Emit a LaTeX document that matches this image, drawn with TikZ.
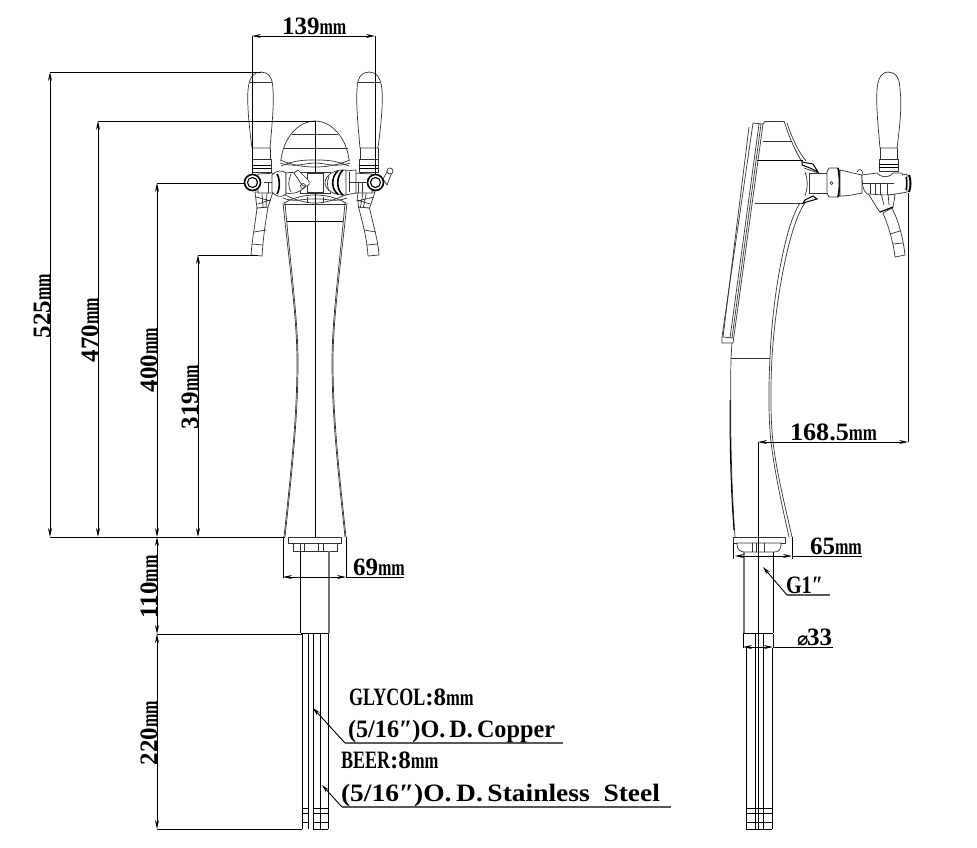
\documentclass[tikz,border=0pt]{standalone}
\usepackage{fontspec}
\usepackage{graphicx}
\setmainfont{Liberation Serif}
\newfontfamily\symfont{DejaVu Sans}
\usetikzlibrary{arrows.meta}
\tikzset{
  obj/.style={line width=0.7pt,black!80},
  heavy/.style={line width=1.6pt,black},
  dimline/.style={line width=0.9pt,black},
  dimarrow/.style={line width=0.9pt,black,{Stealth[length=9pt,width=4pt]}-{Stealth[length=9pt,width=4pt]}},
  leadarrow/.style={line width=0.9pt,black,{Stealth[length=8pt,width=4pt]}-},
  shelf/.style={line width=1.1pt,black!65},
  lbl/.style={inner sep=0pt,outer sep=0pt,font=\bfseries\fontsize{25}{25}\selectfont,text=black},
}
\newcommand{\dimtext}[1]{#1\scalebox{.7}[1]{\fontsize{23}{23}\selectfont mm}}
\newcommand{\fitw}[2]{\resizebox{#1pt}{\height}{#2}}
\newcommand{\dblq}{\textit{″}}
\newcommand{\narrow}[1]{\scalebox{.72}[1]{#1}}
% one faucet, left-hand version; mirrored for the right-hand one. #1 = shift of spout top
\newcommand{\faucet}[1]{%
  % handle
  \draw[obj,fill=white] (252,148) .. controls (249,125) and (247,105) .. (248,90)
     .. controls (249,77) and (254,72) .. (261,72)
     .. controls (268,72) and (273,77) .. (273,90)
     .. controls (274,105) and (272,125) .. (270,148) -- cycle;
  \draw[obj] (250,82) -- (272,82);
  \draw[obj] (252,148) -- (252,159) (270,148) -- (270,159);
  % collar
  \draw[obj,fill=white] (252,159) rectangle (271,172);
  \draw[line width=1pt] (252,165) -- (271,165) (252,168) -- (271,168);
  % spout
  \draw[obj,fill=white] ({257+#1},208) .. controls ({255+#1/2},225) and (252,240) .. (251,255)
     -- (262,256) .. controls (263,240) and ({265+#1/2},225) .. ({268+#1},207) -- cycle;
  \draw[obj] (254,232) -- (266,230) (252,244) -- (263,245);
  % spout base
  \draw[obj,fill=white] (255,192) -- ({257+#1},208) -- ({268+#1},207) -- (273,192) -- cycle;
  \draw[obj] (256,197) -- ({271+#1/2},201) ({262+#1/2},193) -- ({263+#1},207) ({267},193) -- ({266+#1},207) ({258+#1/2},204) -- ({270+#1},200);
  % body
  \draw[obj,fill=white] (258,174) -- (277,173) -- (277,193) -- (258,193) -- cycle;
  \draw[obj] (264,182) -- (277,182) (268,182) -- (268,193) (272,182) -- (272,193);
}
\begin{document}
\begin{tikzpicture}[x=1pt,y=-1pt]
\useasboundingbox (0,0) rectangle (977,847);
\fill[white] (0,0) rectangle (977,847);

% ---------- front view: body ----------
\foreach \m in {0,1}{
 \begin{scope}[shift={(\m*630,0)},xscale={1-2*\m}]
  \draw[obj] (283,203) .. controls (290,270) and (297,320) .. (297,362)
     .. controls (297,420) and (290,480) .. (284,537);
  \draw[obj] (285,203) .. controls (291,270) and (298,320) .. (298,362)
     .. controls (298,420) and (291,480) .. (285,537);
  \draw[obj] (281,160) .. controls (283,140) and (297,121) .. (315,121);
  \draw[obj] (280,160) .. controls (295,166) and (305,167) .. (315,167);
  \draw[obj] (281,166) .. controls (295,160) and (305,160) .. (315,160);
  \draw[obj] (280,163) .. controls (295,168) and (305,163) .. (315,163);
  \draw[obj] (283,194) .. controls (295,200) and (305,203) .. (315,203);
  \draw[obj] (284,203) .. controls (295,197) and (305,195) .. (315,195);
  \draw[obj] (283,198) .. controls (295,203) and (305,198) .. (315,199);
  \draw[obj] (284,204) -- (315,204);
 \end{scope}
}
\draw[obj] (292,134) -- (338,134) (283,148) -- (348,148);
\draw[line width=.9pt] (287,221) -- (343,221);
% center block
\draw[obj] (300,172) rectangle (330,193);
\draw[obj] (307,173) rectangle (323,192);
\draw[obj] (307,197) -- (307,203) (323,197) -- (323,203);

% faucets
\faucet{0}
\begin{scope}[shift={(630,0)},xscale=-1]
  \faucet{3.5}
\end{scope}
% left inner connection
\draw[obj,fill=white] (272,175) .. controls (276,170) and (283,170) .. (286,173)
   -- (286,194) .. controls (282,198) and (276,197) .. (272,192) -- cycle;
\draw[heavy] (277,174) .. controls (280,178) and (280,190) .. (277,194);
\draw[obj,fill=white] (286,173) .. controls (296,171) and (303,175) .. (307,183)
   .. controls (304,190) and (296,195) .. (286,193) -- cycle;
\draw[obj] (291,174) .. controls (288,181) and (288,187) .. (291,192);
\draw[obj,fill=white] (294,173) -- (298,170) -- (309,181) .. controls (311,186) and (305,188) .. (302,185) -- cycle;
\draw[obj] (303,186) circle (2.5);
% right inner connection
\draw[obj,fill=white] (345,171) -- (356,170) -- (356,193) -- (345,195) -- cycle;
\draw[obj,fill=white] (346,170) .. controls (335,169) and (325,175) .. (325,183)
   .. controls (325,190) and (335,196) .. (346,195) -- cycle;
\draw[heavy] (338,171) .. controls (331,176) and (331,190) .. (338,194);
\draw[heavy] (343,170) .. controls (336,176) and (336,190) .. (343,195);
\draw[obj] (329,176) .. controls (327,181) and (327,187) .. (329,191);
\draw[obj] (349,172) -- (349,192) (349,182) -- (364,182);
% right vent tube
\draw[obj,fill=white] (383,179) -- (388,170) -- (392,172) -- (387,185) -- cycle;
\draw[obj,fill=white] (390,171) circle (3);
% rings
\foreach \rx in {252.5,375.5}{
  \draw[line width=1.6pt,fill=white] (\rx,182.5) circle (8);
  \draw[line width=1.1pt] (\rx,182.5) circle (5);
}

% axis through the front view
\draw[dimline] (315,121) -- (315,172);
\draw[dimline] (315,193) -- (315,537);

% foot and pipe, front
\draw[obj,fill=white] (288,537) rectangle (341,543);
\draw[obj,fill=white] (293,543) rectangle (337,551);
\draw[obj] (300,543) -- (300,551) (304,543) -- (304,551) (318,543) -- (318,551) (323,543) -- (323,551);
\draw[line width=1pt] (300.5,551) -- (300.5,633);
\draw[line width=1.1pt,black!55] (329,551) -- (329,633);
\draw[line width=1pt] (300.5,633.5) -- (329,633.5);
\draw[line width=.9pt] (302,634) -- (302,829) (308,634) -- (308,829)
   (313,634) -- (313,829) (320,634) -- (320,829) (328,634) -- (328,829);
\draw[line width=.8pt] (302,808) -- (308,808) (302,813) -- (308,813) (302,822) -- (308,822)
   (313,808) -- (328,808) (313,813) -- (328,813) (313,822) -- (328,822)
   (313,829) -- (328,829);

% ---------- side view ----------
% plate
\draw[obj] (753,123) -- (763,124) -- (733,343) -- (722,343) -- (722,337) -- cycle;
\draw[obj] (749,127) -- (723,337) -- (733,338);
\draw[obj] (759,124) -- (730,338);
\draw[obj] (761,124) -- (732,338);
% body top
\draw[obj] (765,121) -- (784,121);
\draw[obj] (763,124) -- (765,121);
\draw[obj] (784,121) .. controls (788,133) and (792,145) .. (802,162);
\draw[obj] (787,123) .. controls (791,135) and (797,150) .. (806,161);
\draw[obj] (763,141) -- (792,141);
\draw[dimline] (757,160) -- (803,160);
\draw[obj] (755,203) -- (805,203);
% brackets
\draw[line width=1pt] (802,162) -- (813,164) -- (818,172) -- (810,168) -- (802,165) -- cycle;
\draw[obj] (804,168) -- (818,173);
\draw[line width=1pt] (803,203) -- (817,199) -- (813,196) -- (805,200) -- cycle;
\draw[obj] (805,172) .. controls (808,180) and (808,186) .. (805,196);
% body curve
\draw[obj] (800,203) .. controls (785,225) and (772,300) .. (770,358)
   .. controls (768,395) and (769,425) .. (771,442)
   .. controls (775,475) and (783,510) .. (789,537);
\draw[obj] (805,203) .. controls (790,223) and (776,295) .. (772,357)
   .. controls (770,395) and (771,425) .. (773,442)
   .. controls (777,475) and (786,510) .. (792,537);
\draw[obj] (732,343) -- (731,358) .. controls (730,420) and (731,480) .. (735,537);
\draw[line width=1pt] (730,400) .. controls (730,450) and (731,490) .. (734,530);
\draw[obj] (731,358) -- (770,358);

% foot and pipe, side
\draw[obj,fill=white] (733,537) rectangle (785,543);
\draw[obj,fill=white] (737,543) .. controls (737,550) and (740,552) .. (745,552) -- (774,552)
   .. controls (779,552) and (781,550) .. (781,543) -- cycle;
\draw[obj] (735,543) -- (737,543) (752,543) -- (752,552) (756,543) -- (756,552) (764,543) -- (764,552);
\draw[line width=1.1pt,black!55] (744,552) -- (744,633);
\draw[line width=1pt] (773,552) -- (773,633);
\draw[line width=1pt] (743,633.5) -- (773,633.5);
\draw[line width=.9pt] (743,634) -- (743,648) (773,634) -- (773,648);
\draw[line width=.9pt] (746,648) -- (746,829) (755,634) -- (755,829)
   (763,634) -- (763,829) (772,648) -- (772,829);
\draw[line width=.8pt] (746,808) -- (772,808) (746,813) -- (772,813) (746,822) -- (772,822) (746,829) -- (772,829);

% side faucet
\draw[obj,fill=white] (880,148) .. controls (878,125) and (876,105) .. (877,90)
   .. controls (878,77) and (882,72) .. (888,72)
   .. controls (895,72) and (900,77) .. (900,90)
   .. controls (902,105) and (900,125) .. (897,148) -- cycle;
\draw[obj] (880,148) -- (880,159) (897,148) -- (897,159);
\draw[obj,fill=white] (879,159) rectangle (898,171);
\draw[line width=1pt] (879,164) -- (898,164) (879,167) -- (898,167);
% pipe
\draw[obj,fill=white] (809,173) rectangle (827,193);
% nut
\draw[obj,fill=white] (829,168) -- (838,168) -- (840,172) -- (840,195) -- (838,197) -- (829,197) -- (827,193) -- (827,172) -- cycle;
\draw[heavy] (838,168) .. controls (840,178) and (840,188) .. (838,197);
\draw[obj] (831.5,183) circle (1.5);
% taper
\draw[obj,fill=white] (840,170) .. controls (850,172) and (856,174) .. (862,175)
   -- (862,193) .. controls (856,194) and (850,196) .. (840,196) -- cycle;
\draw[obj] (857,172) .. controls (859,168) and (862,169) .. (863,174);
% spout
\draw[obj,fill=white] (883,213) .. controls (888,225) and (893,240) .. (895,257)
  -- (905,255) .. controls (903,238) and (899,222) .. (892,208) -- cycle;
\draw[obj] (890,234) -- (900,231) (893,244) -- (903,243);
\draw[obj,fill=white] (866,190) -- (877,208) -- (880,212) -- (893,207) -- (895,195) -- cycle;
\draw[line width=1pt] (880,212) -- (893,207);
\draw[obj] (881,193) -- (884,205) (888,193) -- (889,205);
% body
\draw[obj,fill=white] (862,175) -- (877,173) .. controls (880,177) and (888,179) .. (893,173) -- (902,173)
  .. controls (904,178) and (904,188) .. (902,193) -- (895,194) .. controls (885,196) and (875,194) .. (867,194) .. controls (862,190) and (862,180) .. (862,175) -- cycle;
\draw[obj] (863,183) -- (894,183) (870,183) -- (870,194) (875,183) -- (875,194) (880,183) -- (880,195) (887,183) -- (887,195);
% nose
\draw[obj,fill=white] (902,175) -- (907,174) -- (907,192) -- (902,193);
\draw[line width=2pt] (909,175) .. controls (911,180) and (911,187) .. (909,192);
\draw[line width=1.4pt] (906,177) .. controls (907,181) and (907,186) .. (906,190);

% ---------- dimensions ----------
\coordinate (a1) at (252,36);   \coordinate (a2) at (375,36);
\coordinate (e1) at (252,175);  \coordinate (e2) at (375,175);
\draw[dimline] (a1) -- (e1) (a2) -- (e2);
\draw[dimarrow] (a1) -- (a2);
\node[lbl,anchor=base west] (t139) at (282,34) {\dimtext{139}};

\coordinate (base) at (285,537);
\coordinate (b525) at (50,537);   \coordinate (top525) at (50,72);   \coordinate (h525) at (261,72);
\coordinate (b470) at (98,537);   \coordinate (top470) at (98,121);  \coordinate (h470) at (315,121);
\coordinate (b400) at (157,537);  \coordinate (top400) at (157,183); \coordinate (h400) at (245,183);
\coordinate (b319) at (198,537);  \coordinate (top319) at (198,255); \coordinate (h319) at (258,255);
\coordinate (l110) at (157,634);  \coordinate (p110) at (302,634);
\coordinate (l220) at (157,829);  \coordinate (p220) at (302,829);
\draw[dimline] (b525) -- (base);
\draw[dimline] (top525) -- (h525) (top470) -- (h470) (top400) -- (h400) (top319) -- (h319);
\draw[dimline] (l110) -- (p110) (l220) -- (p220);
\draw[dimarrow] (b525) -- (top525);
\draw[dimarrow] (b470) -- (top470);
\draw[dimarrow] (b400) -- (top400);
\draw[dimarrow] (b319) -- (top319);
\draw[dimarrow] (b400) -- (l110);
\draw[dimarrow] (l110) -- (l220);
\node[lbl,rotate=90,anchor=base] (t525) at (50,306) {\dimtext{525}};
\node[lbl,rotate=90,anchor=base] (t470) at (98,330) {\dimtext{470}};
\node[lbl,rotate=90,anchor=base] (t400) at (157,360) {\dimtext{400}};
\node[lbl,rotate=90,anchor=base] (t319) at (198,397) {\dimtext{319}};
\node[lbl,rotate=90,anchor=base] (t110) at (157,587) {\dimtext{110}};
\node[lbl,rotate=90,anchor=base] (t220) at (157,733) {\dimtext{220}};

% 69mm
\coordinate (s1) at (283,537); \coordinate (s2) at (346,537);
\coordinate (s1b) at (283,578); \coordinate (s2b) at (346,578);
\coordinate (s3) at (404,577);
\draw[dimline] (s1) -- (s1b) (s2) -- (s2b);
\draw[dimarrow] (283,577) -- (346,577);
\draw[dimline] (346,577) -- (s3);
\node[lbl,anchor=base west] (t69) at (353,575) {\dimtext{69}};

% 168.5mm
\coordinate (r1) at (908,193); \coordinate (r2) at (908,442); \coordinate (r3) at (758,442);
\coordinate (r4) at (758,829);
\draw[dimline] (r1) -- (r2);
\draw[dimarrow] (r3) -- (r2);
\draw[dimline] (r3) -- (r4);
\node[lbl,anchor=base west] (t168) at (790,440) {\fitw{87}{\dimtext{168.5}}};

% 65mm
\coordinate (q1) at (735,556); \coordinate (q2) at (792,556); \coordinate (q3) at (862,556);
\draw[dimline] (733,543) -- (733,559) (792,537) -- (792,559);
\draw[dimarrow] (q1) -- (q2);
\draw[dimline] (q2) -- (q3);
\node[lbl,anchor=base west] (t65) at (810,554) {\dimtext{65}};

% G1
\coordinate (g1) at (763,567); \coordinate (g2) at (787,595); \coordinate (g3) at (830,595);
\draw[leadarrow] (g1) -- (g2);
\draw[shelf] (g2) -- (g3);
\node[lbl,anchor=base west] (tg) at (786,593) {\fitw{37}{G1\dblq}};

% dia 33
\coordinate (d1) at (743,647); \coordinate (d2) at (773,647); \coordinate (d3) at (833,647);
\draw[dimarrow] (d1) -- (d2);
\draw[dimline] (d2) -- (d3);
\node[lbl,anchor=base west] (td) at (797,645) {\makebox[10pt][l]{\symfont\bfseries\fontsize{19}{19}\selectfont ⌀}33};

% notes
\coordinate (n1) at (313,708); \coordinate (n2) at (345,743); \coordinate (n3) at (563,743);
\coordinate (m1) at (322,785); \coordinate (m2) at (342,807); \coordinate (m3) at (671,807);
\draw[leadarrow] (n1) -- (n2);
\draw[shelf] (n2) -- (n3);
\draw[leadarrow] (m1) -- (m2);
\draw[shelf] (m2) -- (m3);
\node[lbl,anchor=base west] (tn1) at (349,705) {\narrow{GLYCOL}:8\narrow{\fontsize{23}{23}\selectfont mm}};
\node[lbl,anchor=base west] (tn2) at (348,737) {\fitw{207}{(5/16\dblq)O.\,D.\,Copper}};
\node[lbl,anchor=base west] (tn3) at (341,768) {\narrow{BEER}:8\narrow{\fontsize{23}{23}\selectfont mm}};
\node[lbl,anchor=base west] (tn4) at (341,801) {\fitw{319}{(5/16\dblq)O.\,D.\,Stainless\ \ Steel}};
\end{tikzpicture}
\end{document}
